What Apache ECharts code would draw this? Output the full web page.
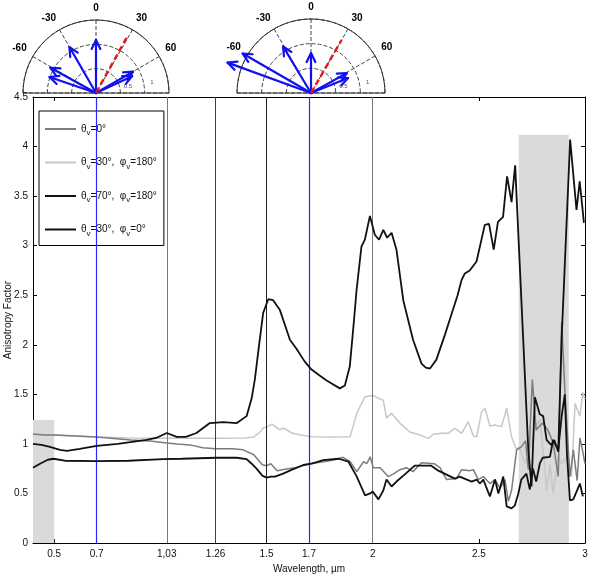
<!DOCTYPE html>
<html>
<head>
<meta charset="utf-8">
<script src="https://cdn.jsdelivr.net/npm/echarts@6/dist/echarts.min.js"></script>
<style>html,body{margin:0;padding:0;background:#fff}#main{width:596px;height:576px}</style>
</head>
<body>
<div id="main"></div>
<script>
// x tick positions and their printed labels (the original prints "1,03")
var xTicks = [0.5, 0.7, 1.03, 1.26, 1.5, 1.7, 2, 2.5, 3];
var xTickLabels = ['0.5', '0.7', '1,03', '1.26', '1.5', '1.7', '2', '2.5', '3'];

// vertical reference lines (µm): blue ones mark the two polar insets
var blueLineX = [0.7, 1.7];
var grayLineX = [1.03, 1.26, 1.5, 2];
var grayLineColor = ['#7a7a7a', '#404040', '#202020', '#7a7a7a'];
// shaded bands [from, to, height]
var grayBands = [[0.4, 0.5, 1.24], [2.688, 2.924, 4.12]];

var seriesNames = ['θv=0°', 'θv=30°, φv=180°', 'θv=70°, φv=180°', 'θv=30°, φv=0°'];
var legendText = ['θ{s|v}=0°', 'θ{s|v}=30°,  φ{s|v}=180°', 'θ{s|v}=70°,  φ{s|v}=180°', 'θ{s|v}=30°,  φ{s|v}=0°'];

// θv=0°
var nadir = [[0.40,1.10],[0.45,1.09],[0.50,1.09],[0.60,1.08],[0.70,1.07],[0.86,1.04],[0.95,1.03],[1.03,1.01],[1.08,1.00],[1.14,0.99],
  [1.20,0.96],[1.26,0.95],[1.34,0.95],[1.39,0.94],[1.44,0.89],[1.48,0.79],[1.50,0.78],[1.52,0.80],[1.55,0.73],[1.60,0.75],
  [1.64,0.76],[1.70,0.80],[1.77,0.82],[1.82,0.84],[1.86,0.865],[1.894,0.82],[1.925,0.72],[1.957,0.82],[1.972,0.80],[1.988,0.87],
  [2.003,0.76],[2.035,0.76],[2.073,0.67],[2.10,0.70],[2.128,0.74],[2.159,0.76],[2.19,0.72],[2.23,0.81],[2.29,0.80],[2.317,0.76],
  [2.348,0.64],[2.395,0.65],[2.419,0.74],[2.458,0.73],[2.474,0.74],[2.497,0.64],[2.521,0.67],[2.552,0.60],[2.576,0.64],[2.60,0.55],
  [2.623,0.64],[2.639,0.42],[2.654,0.53],[2.678,0.94],[2.70,0.97],[2.72,1.03],[2.733,0.74],[2.752,1.65],[2.77,1.14],[2.80,1.21],
  [2.825,1.14],[2.85,1.01],[2.874,0.67],[2.89,2.23],[2.905,1.55],[2.929,0.67],[2.945,0.94],[2.963,0.63],[2.976,1.06],[2.987,0.95],[3.0,0.80]];

// θv=30°, φv=180°
var back30 = [[0.40,1.10],[0.50,1.09],[0.70,1.07],[0.85,1.06],[1.03,1.056],[1.26,1.056],[1.40,1.06],[1.44,1.07],[1.47,1.12],[1.484,1.16],
  [1.50,1.17],[1.525,1.20],[1.545,1.17],[1.564,1.14],[1.575,1.16],[1.588,1.15],[1.62,1.11],[1.66,1.09],[1.713,1.073],[1.80,1.07],
  [1.894,1.073],[1.925,1.31],[1.964,1.476],[2.003,1.49],[2.027,1.46],[2.05,1.44],[2.065,1.26],[2.089,1.31],[2.128,1.21],[2.175,1.12],
  [2.222,1.09],[2.262,1.056],[2.286,1.097],[2.325,1.107],[2.356,1.107],[2.387,1.157],[2.419,1.107],[2.45,1.224],[2.474,1.08],[2.49,1.073],
  [2.513,1.325],[2.529,1.359],[2.552,1.18],[2.576,1.19],[2.607,1.174],[2.631,1.359],[2.654,1.073],[2.678,0.94],[2.688,0.97],[2.72,0.80],
  [2.764,1.14],[2.787,1.25],[2.81,0.78],[2.819,0.53],[2.835,0.80],[2.85,0.50],[2.874,0.87],[2.89,0.80],[2.913,0.87],[2.937,0.67],
  [2.953,1.41],[2.976,1.28],[2.99,1.52],[3.0,1.45]];

// θv=70°, φv=180°
var back70 = [[0.40,1.00],[0.44,0.99],[0.48,0.97],[0.527,0.94],[0.56,0.93],[0.62,0.95],[0.70,0.98],[0.80,1.00],[0.935,1.04],[0.98,1.06],
  [1.03,1.11],[1.077,1.07],[1.12,1.07],[1.17,1.11],[1.233,1.21],[1.296,1.22],[1.36,1.21],[1.406,1.28],[1.43,1.46],[1.445,1.65],
  [1.465,2.0],[1.484,2.32],[1.508,2.46],[1.531,2.45],[1.563,2.35],[1.59,2.18],[1.61,2.05],[1.641,1.96],[1.68,1.83],[1.712,1.75],
  [1.75,1.69],[1.783,1.64],[1.845,1.56],[1.869,1.59],[1.892,1.78],[1.91,2.2],[1.924,2.55],[1.947,2.99],[1.963,3.06],[1.987,3.30],
  [2.01,3.11],[2.03,3.06],[2.05,3.16],[2.068,3.08],[2.089,3.13],[2.112,2.96],[2.144,2.45],[2.19,2.05],[2.23,1.81],[2.25,1.77],
  [2.27,1.76],[2.30,1.85],[2.34,2.1],[2.37,2.3],[2.40,2.5],[2.418,2.65],[2.434,2.72],[2.457,2.75],[2.489,2.84],[2.528,3.21],
  [2.548,3.22],[2.57,2.96],[2.59,3.24],[2.614,3.29],[2.633,3.70],[2.654,3.44],[2.671,3.81],[2.733,0.94],[2.748,0.57],[2.764,1.47],
  [2.787,1.30],[2.803,1.28],[2.819,1.04],[2.84,0.99],[2.855,1.04],[2.874,0.92],[2.89,2.06],[2.93,4.07],[2.96,3.36],[2.975,3.65],[2.995,3.23]];

// θv=30°, φv=0°
var fwd30 = [[0.40,0.76],[0.433,0.80],[0.47,0.84],[0.496,0.85],[0.55,0.83],[0.70,0.827],[0.85,0.83],[1.013,0.847],[1.10,0.85],[1.265,0.86],
  [1.36,0.86],[1.406,0.847],[1.43,0.80],[1.453,0.75],[1.48,0.68],[1.50,0.66],[1.52,0.67],[1.54,0.669],[1.578,0.70],[1.62,0.74],
  [1.673,0.787],[1.713,0.80],[1.767,0.837],[1.84,0.85],[1.886,0.82],[1.925,0.67],[1.964,0.48],[1.988,0.50],[2.0,0.52],[2.027,0.44],
  [2.05,0.53],[2.065,0.64],[2.089,0.57],[2.112,0.62],[2.15,0.69],[2.198,0.78],[2.276,0.78],[2.309,0.73],[2.348,0.69],[2.387,0.65],
  [2.41,0.67],[2.466,0.62],[2.49,0.64],[2.505,0.60],[2.521,0.64],[2.552,0.47],[2.576,0.64],[2.592,0.50],[2.615,0.67],[2.631,0.37],
  [2.654,0.35],[2.67,0.38],[2.686,0.50],[2.70,0.64],[2.724,0.70],[2.74,0.54],[2.755,0.75],[2.77,0.62],[2.787,0.80],[2.80,0.86],
  [2.835,0.87],[2.85,1.04],[2.874,0.94],[2.89,1.28],[2.905,1.50],[2.915,0.90],[2.929,0.43],[2.945,0.44],[2.976,0.60],[2.99,0.47]];

// polar insets: arrows [radius, angle from nadir], red dashed = sun direction
var arrows07 = [[1.09,0],[1.09,-30],[1.07,-61],[1.01,-71],[0.88,60],[0.82,65]];
var sun07 = [[1.36,29]];
var arrows17 = [[0.81,0],[1.10,-31],[1.60,-60],[1.80,-70],[0.83,61],[0.81,68]];
var sun17 = [[1.24,30]];
var radLabels = [0.5, 1];
var baseEnds = [[1.5,-90],[1.5,90]];

var font = 'Liberation Sans, Arial, sans-serif';
var chart = echarts.init(document.getElementById('main'));

function arrowItem(params, api) {
  var tip = api.coord([api.value(0), api.value(1)]);
  var o = api.coord([0, api.value(1)]);
  var dx = o[0] - tip[0], dy = o[1] - tip[1];
  var len = Math.sqrt(dx * dx + dy * dy) || 1;
  var ux = dx / len, uy = dy / len;
  var h = 10, c = Math.cos(0.45), s = Math.sin(0.45);
  var p1 = [tip[0] + h * (ux * c - uy * s), tip[1] + h * (ux * s + uy * c)];
  var p2 = [tip[0] + h * (ux * c + uy * s), tip[1] + h * (-ux * s + uy * c)];
  var st = { stroke: '#1010f0', lineWidth: 2.2, fill: null, lineCap: 'round', lineJoin: 'round' };
  return { type: 'group', children: [
    { type: 'line', shape: { x1: o[0], y1: o[1], x2: tip[0], y2: tip[1] }, style: st },
    { type: 'polyline', shape: { points: [p1, tip, p2] }, style: st }
  ] };
}
function sunItem(params, api) {
  var tip = api.coord([api.value(0), api.value(1)]);
  var o = api.coord([0, api.value(1)]);
  return { type: 'line', shape: { x1: o[0], y1: o[1], x2: tip[0], y2: tip[1] },
    style: { stroke: '#e8161b', lineWidth: 2.4, lineDash: [6, 3.5] } };
}
function baseItem(params, api) {
  var p = api.coord([api.value(0), api.value(1)]);
  var o = api.coord([0, api.value(1)]);
  return { type: 'line', shape: { x1: o[0], y1: o[1], x2: p[0], y2: p[1] }, style: { stroke: '#333', lineWidth: 1 } };
}
function radLabelItem(params, api) {
  var v = api.value(0);
  var p = api.coord([v + 0.17, 79]);
  return { type: 'text', x: p[0], y: p[1],
    style: { text: String(v), fill: '#555', fontSize: 6, fontFamily: font, align: 'center', verticalAlign: 'middle' } };
}

function polarAxes(i) {
  return {
    angle: {
      polarIndex: i, type: 'value', min: -90, max: 90, interval: 30,
      startAngle: 180, endAngle: 0, clockwise: true,
      axisLine: { lineStyle: { color: '#333', width: 1 } },
      axisTick: { show: false },
      axisLabel: { formatter: function (v) { return Math.abs(v) === 90 ? '' : String(v); },
        fontWeight: 'bold', fontSize: 10, color: '#000', fontFamily: font, margin: 7 },
      splitLine: { lineStyle: { type: 'dashed', color: '#444', width: 1 } }
    },
    radius: {
      polarIndex: i, type: 'value', min: 0, max: 1.5, interval: 0.5,
      axisLine: { show: false }, axisTick: { show: false }, axisLabel: { show: false },
      splitLine: { lineStyle: { type: 'dashed', color: '#444', width: 1 } }
    }
  };
}
var pa0 = polarAxes(0), pa1 = polarAxes(1);

function polarSeries(i, data, fn, z) {
  return { type: 'custom', coordinateSystem: 'polar', polarIndex: i, data: data,
    encode: { radius: 0, angle: 1 }, renderItem: fn, silent: true, z: z };
}

var option = {
  animation: false,
  backgroundColor: '#fff',
  textStyle: { fontFamily: font },
  grid: { left: 33, right: 11, top: 97, bottom: 33, outerBoundsMode: 'none', containLabel: false },
  polar: [
    { center: [96, 93], radius: 73 },
    { center: [311, 93], radius: 74 }
  ],
  angleAxis: [pa0.angle, pa1.angle],
  radiusAxis: [pa0.radius, pa1.radius],
  legend: {
    data: seriesNames,
    orient: 'vertical', left: 39, top: 111,
    padding: [10, 7, 8, 6], itemGap: 17.5, itemWidth: 31, itemHeight: 2, icon: 'rect',
    borderColor: '#000', borderWidth: 1, backgroundColor: '#fff',
    formatter: function (name) { return legendText[seriesNames.indexOf(name)]; },
    textStyle: { fontSize: 10, lineHeight: 16, color: '#111', fontFamily: font,
      rich: { s: { fontSize: 8, lineHeight: 8, verticalAlign: 'bottom', color: '#111', fontFamily: font } } }
  },
  xAxis: [{
    type: 'value', min: 0.4, max: 3,
    name: 'Wavelength, µm', nameLocation: 'middle', nameGap: 20,
    nameTextStyle: { fontSize: 10, color: '#111', fontFamily: font },
    axisLine: { onZero: false, lineStyle: { color: '#000', width: 1 } },
    axisTick: { inside: true, length: 4, customValues: xTicks, lineStyle: { color: '#000' } },
    axisLabel: { customValues: xTicks, fontSize: 10, color: '#111', margin: 6,
      formatter: function (v) { return xTickLabels[xTicks.indexOf(v)]; } },
    splitLine: { show: false }
  }, {
    type: 'value', min: 0.4, max: 3, position: 'top',
    axisLine: { onZero: false, lineStyle: { color: '#000', width: 1 } },
    axisTick: { inside: true, length: 4, customValues: xTicks, lineStyle: { color: '#000' } },
    axisLabel: { show: false }, splitLine: { show: false }
  }],
  yAxis: [{
    type: 'value', min: 0, max: 4.5, interval: 0.5,
    name: 'Anisotropy Factor', nameLocation: 'middle', nameGap: 20, nameRotate: 90, nameMoveOverlap: false,
    nameTextStyle: { fontSize: 10, color: '#111', fontFamily: font },
    axisLine: { show: true, onZero: false, lineStyle: { color: '#000', width: 1 } },
    axisTick: { show: true, inside: true, length: 4, lineStyle: { color: '#000' } },
    axisLabel: { fontSize: 10, color: '#111', margin: 5 },
    splitLine: { show: false }
  }, {
    type: 'value', min: 0, max: 4.5, interval: 0.5, position: 'right',
    axisLine: { show: true, onZero: false, lineStyle: { color: '#000', width: 1 } },
    axisTick: { show: true, inside: true, length: 4, lineStyle: { color: '#000' } },
    axisLabel: { show: false }, splitLine: { show: false }
  }],
  series: [
    {
      name: 'bands', type: 'line', data: [], z: 1, silent: true,
      markArea: { silent: true, itemStyle: { color: '#dadada' },
        data: grayBands.map(function (b) { return [{ xAxis: b[0], yAxis: 0 }, { xAxis: b[1], yAxis: b[2] }]; }) },
      markLine: { silent: true, symbol: ['none', 'none'], label: { show: false },
        data: grayLineX.map(function (x, i) { return { xAxis: x, lineStyle: { color: grayLineColor[i], width: 1, type: 'solid' } }; }) }
    },
    {
      name: 'insetLines', type: 'line', data: [], z: 7, silent: true,
      markLine: { silent: true, symbol: ['none', 'none'], label: { show: false },
        lineStyle: { color: '#2a2aff', width: 1.2, type: 'solid' },
        data: blueLineX.map(function (x) { return [{ coord: [x, 0] }, { coord: [x, 4.5] }]; }) }
    },
    { name: seriesNames[1], type: 'line', data: back30, showSymbol: false, symbol: 'none', z: 3,
      lineStyle: { color: '#c8c8c8', width: 1.5 }, itemStyle: { color: '#c8c8c8' } },
    { name: seriesNames[0], type: 'line', data: nadir, showSymbol: false, symbol: 'none', z: 4,
      lineStyle: { color: '#7c7c7c', width: 1.5 }, itemStyle: { color: '#7c7c7c' } },
    { name: seriesNames[3], type: 'line', data: fwd30, showSymbol: false, symbol: 'none', z: 5,
      lineStyle: { color: '#111', width: 1.8 }, itemStyle: { color: '#111' } },
    { name: seriesNames[2], type: 'line', data: back70, showSymbol: false, symbol: 'none', z: 6,
      lineStyle: { color: '#111', width: 1.8 }, itemStyle: { color: '#111' } },
    polarSeries(0, baseEnds, baseItem, 3),
    polarSeries(0, radLabels.map(function (v) { return [v, 79]; }), radLabelItem, 3),
    polarSeries(0, arrows07, arrowItem, 4),
    polarSeries(0, sun07, sunItem, 5),
    polarSeries(1, baseEnds, baseItem, 3),
    polarSeries(1, radLabels.map(function (v) { return [v, 79]; }), radLabelItem, 3),
    polarSeries(1, arrows17, arrowItem, 4),
    polarSeries(1, sun17, sunItem, 5)
  ]
};
chart.setOption(option);
</script>
</body>
</html>
